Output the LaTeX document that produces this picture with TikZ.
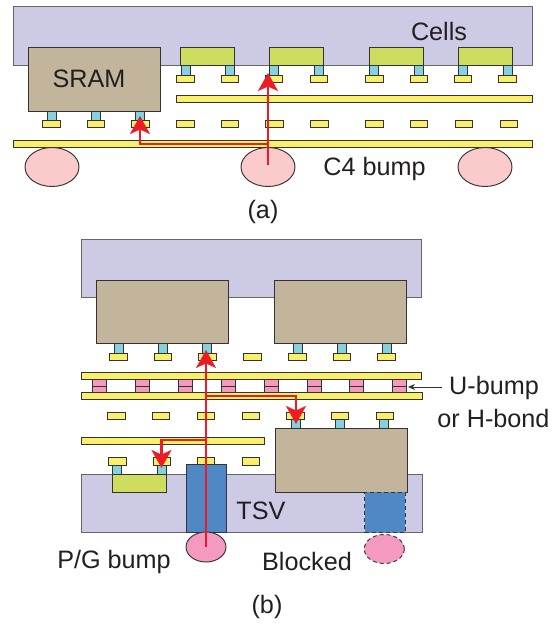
\documentclass[tikz,border=0pt]{standalone}
\usepackage{fontspec}
\setmainfont{Liberation Sans}
\usetikzlibrary{arrows.meta,shapes.geometric}
\definecolor{cpurple}{HTML}{CDCAE6}
\definecolor{ctan}{HTML}{C2B59B}
\definecolor{cgreen}{HTML}{CFDD5F}
\definecolor{ccyan}{HTML}{85D1DF}
\definecolor{cyellow}{HTML}{FAEF6B}
\definecolor{cbump}{HTML}{FBCBCB}
\definecolor{cblue}{HTML}{5088C5}
\definecolor{cmag}{HTML}{F49AC1}
\definecolor{cred}{HTML}{ED1C24}
\definecolor{cline}{HTML}{333333}
\definecolor{ctext}{HTML}{231F20}
\newcommand{\bx}[6]{%
  \pgfmathsetmacro{\bxw}{#5-#3}%
  \pgfmathsetmacro{\bxh}{#6-#4}%
  \pgfmathsetmacro{\bxx}{(#5+#3)/2}%
  \pgfmathsetmacro{\bxy}{(#6+#4)/2}%
  \node[box,#1,minimum width=\bxw pt,minimum height=\bxh pt] (#2) at (\bxx,\bxy) {};}
\newcommand{\bmp}[6]{%
  \node[ellipse,draw=cline,line width=.95pt,inner sep=0pt,outer sep=0pt,fill=#2,#1,minimum width=#5 pt,minimum height=#6 pt] (#3) at #4 {};}
\tikzset{
  box/.style={rectangle,draw=cline,line width=1pt,inner sep=0pt,outer sep=0pt},
  chip/.style={fill=cpurple,draw=black!60},
  tan/.style={fill=ctan},
  logic/.style={fill=cgreen},
  pillar/.style={fill=ccyan},
  metal/.style={fill=cyellow},
  ubump/.style={fill=cmag},
  tsv/.style={fill=cblue},
  lbl/.style={text=ctext,font=\fontsize{25.2}{28}\selectfont,inner sep=0pt,align=center},
  route/.style={draw=cred,line width=2.2pt,-{Stealth[length=18pt,width=20pt,inset=4.5pt]}},
  branch/.style={draw=cred,line width=2.2pt,-{Stealth[length=18pt,width=20pt,inset=4.5pt]}},
}
\begin{document}
\begin{tikzpicture}[x=1pt,y=-1pt]
\useasboundingbox (0,0) rectangle (557,626);
% ---------- (a)
\bx{chip}{dieA}{13.5}{7}{532}{65.5}
\bx{tan}{sramA}{28.5}{48}{160.5}{111}
\foreach \a/\b [count=\i] in {180.5/234.5,269/323,369.5/423.5,458/512.5}
  {\bx{logic}{cellA\i}{\a}{48}{\b}{65.5}}
\foreach \a [count=\i] in {181,225,269,314,369.5,414,458.5,503}
  {\bx{pillar}{capA\i}{\a}{65.5}{\a+9.2}{75}}
\foreach \a [count=\i] in {176.5,221,265,310,365.5,410,454,498.5}
  {\bx{metal}{padA\i}{\a}{75}{\a+17.6}{82.5}}
\bx{metal}{barAa}{176.5}{95.5}{532}{102.5}
\foreach \a [count=\i] in {47,91.5,135.5}
  {\bx{pillar}{pilA\i}{\a}{111}{\a+9.4}{120.5}}
\foreach \a [count=\i] in {42.5,87,131.5,176.5,221,265.5,310.5,365.5,410,455,500}
  {\bx{metal}{lowA\i}{\a}{120.5}{\a+17.6}{127.5}}
\bx{metal}{barAb}{13.5}{140}{532}{147}
\bmp{}{cbump}{bumpAa}{(52,167)}{54}{39}
\bmp{}{cbump}{bumpAb}{(268,167)}{54}{39}
\bmp{}{cbump}{bumpAc}{(485,167)}{54}{39}
\node[lbl] (tsram) at (89,79) {SRAM};
\node[lbl] (tcells) at (439,31) {Cells};
\node[lbl] (tc4) at (374.5,169) {C4 bump};
\node[lbl] (ta) at (263,211.5) {(a)};
\coordinate (sA) at (268,165);
\coordinate (tA) at (268,73);
\coordinate (kA) at (268,144);
\coordinate (uA) at (140,116);
\draw[route] (sA) -- (tA);
\draw[branch] (kA) -- (uA |- kA) -- (uA);
% ---------- (b)
\bx{chip}{dieB}{81}{239}{421.5}{297}
\bx{tan}{memBa}{96}{280}{228}{343}
\bx{tan}{memBb}{274.5}{280}{406.5}{343}
\foreach \a [count=\i] in {114,158.5,202.5,293,337.5,382}
  {\bx{pillar}{pilB\i}{\a}{343}{\a+9.4}{353}}
\foreach \a [count=\i] in {109.5,154,198.5,243.5,288.5,333,377.5}
  {\bx{metal}{padB\i}{\a}{353}{\a+17.6}{360.5}}
\foreach \a [count=\i] in {92.5,135.5,178.5,221,264,307,349.5,392.5}
  {\bx{ubump}{ubA\i}{\a}{379.5}{\a+14.3}{386}
   \bx{ubump}{ubB\i}{\a}{386}{\a+14.3}{392}}
\bx{metal}{barBa}{81}{372.5}{421.5}{379.5}
\bx{metal}{barBb}{81.5}{392}{422}{399.5}
\foreach \a [count=\i] in {107.5,152,197,242,286.5,331,376}
  {\bx{metal}{midB\i}{\a}{412}{\a+17.6}{419.5}}
\foreach \a [count=\i] in {291,335,379.5}
  {\bx{pillar}{capB\i}{\a}{419.5}{\a+9.4}{428.5}}
\bx{metal}{barBc}{81.5}{437}{264}{444.5}
\foreach \a [count=\i] in {108.5,153,197,242}
  {\bx{metal}{lowB\i}{\a}{457.5}{\a+17.6}{465}}
\bx{chip}{baseB}{81.5}{474}{422}{532.5}
\bx{tan}{memBc}{275}{428.5}{407.5}{492}
\foreach \a [count=\i] in {112.5,157.5}
  {\bx{pillar}{pinB\i}{\a}{465}{\a+9.2}{474}}
\bx{logic}{cellB}{112.5}{474}{166.5}{492}
\bx{tsv}{tsvB}{186}{464.5}{226}{532.5}
\bx{tsv,dash pattern=on 4pt off 3pt}{tsvBlocked}{364.5}{492}{405}{532.5}
\bmp{}{cmag}{pgB}{(206,547)}{40}{30}
\bmp{dash pattern=on 4pt off 3pt}{cmag}{blockB}{(384.3,549)}{40}{29}
\node[lbl] (ttsv) at (261,511) {TSV};
\node[lbl] (tpg) at (114,561.5) {P/G bump};
\node[lbl] (tblock) at (307,561.5) {Blocked};
\node[lbl] (tb) at (267,606.5) {(b)};
\node[lbl] (tu) at (494,388) {U-bump};
\node[lbl] (th) at (493.5,418.5) {or H-bond};
\coordinate (uS) at (442,387);
\coordinate (uT) at (408,387);
\draw[draw=cline,line width=.8pt,-{Stealth[length=7pt,width=6pt]}] (uS) -- (uT);
\coordinate (sB) at (206,547);
\coordinate (tB) at (206,350);
\coordinate (kBa) at (206,396);
\coordinate (eBa) at (296,424);
\coordinate (kBb) at (206,440);
\coordinate (eBb) at (161.5,468);
\draw[route] (sB) -- (tB);
\draw[branch] (kBa) -- (eBa |- kBa) -- (eBa);
\draw[branch] (kBb) -- (eBb |- kBb) -- (eBb);
\end{tikzpicture}
\end{document}
